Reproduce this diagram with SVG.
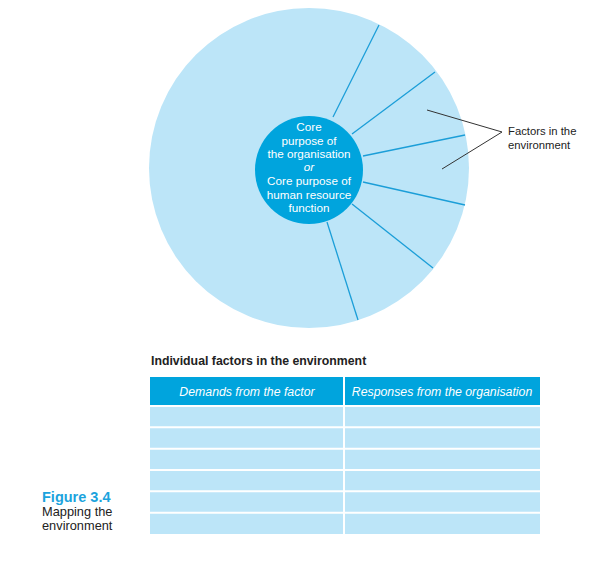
<svg xmlns="http://www.w3.org/2000/svg" width="599" height="565" viewBox="0 0 599 565">
<style>
.light{fill:#bce5f8}
.dark{fill:#00a4dd}
.spoke{stroke:#1b9ed8;stroke-width:1.3;fill:none}
.pointer{stroke:#333;stroke-width:1;fill:none}
.t{font-family:"Liberation Sans",Arial,sans-serif}
.w{fill:#fff}
.k{fill:#222}
.core{font-size:11.7px}
.lbl{font-size:11.3px}
.ttl{font-size:12.3px;font-weight:bold}
.hdr{font-style:italic;font-size:12.3px}
.gap{stroke:#fff;stroke-width:2}
</style>
<rect width="599" height="565" fill="#fff"/>
<g id="outer-circle"><circle class="light" cx="309" cy="168" r="160"/></g>
<g id="connectors">
<line class="spoke" x1="333" y1="117" x2="379" y2="25"/>
<line class="spoke" x1="352" y1="134" x2="435" y2="72"/>
<line class="spoke" x1="363" y1="156" x2="465" y2="135"/>
<line class="spoke" x1="363" y1="182" x2="465" y2="205"/>
<line class="spoke" x1="352" y1="204" x2="433" y2="268"/>
<line class="spoke" x1="327" y1="222" x2="358" y2="320"/>
<polyline class="pointer" points="427,110 502,132 442,169"/>
</g>
<g id="core">
<circle class="dark" cx="309" cy="170" r="54"/>
<g class="t w core" text-anchor="middle">
<text x="309" y="131">Core</text>
<text x="309" y="145">purpose of</text>
<text x="309" y="158">the organisation</text>
<text x="309" y="171" font-style="italic">or</text>
<text x="309" y="185">Core purpose of</text>
<text x="309" y="199">human resource</text>
<text x="309" y="212">function</text>
</g>
</g>
<g id="factors-label" class="t k lbl">
<text x="508" y="135">Factors in the</text>
<text x="508" y="149">environment</text>
</g>
<g id="table">
<text class="t k ttl" x="151" y="365">Individual factors in the environment</text>
<rect class="dark" x="150" y="377" width="390" height="29"/>
<rect class="light" x="150" y="406" width="390" height="128"/>
<g class="gap">
<line x1="344" y1="377" x2="344" y2="534"/>
<line x1="150" y1="406" x2="540" y2="406"/>
<line x1="150" y1="427.3" x2="540" y2="427.3"/>
<line x1="150" y1="448.7" x2="540" y2="448.7"/>
<line x1="150" y1="470" x2="540" y2="470"/>
<line x1="150" y1="491.3" x2="540" y2="491.3"/>
<line x1="150" y1="512.7" x2="540" y2="512.7"/>
</g>
<text class="t w hdr" x="247" y="396" text-anchor="middle">Demands from the factor</text>
<text class="t w hdr" x="442" y="396" text-anchor="middle">Responses from the organisation</text>
</g>
<g id="caption" font-family="'Liberation Sans',Arial,sans-serif">
<text x="42" y="502" font-size="14.5" font-weight="bold" fill="#1ba3dd">Figure 3.4</text>
<text x="42" y="516" font-size="12.8" fill="#222">Mapping the</text>
<text x="42" y="530" font-size="12.8" fill="#222">environment</text>
</g>
</svg>
